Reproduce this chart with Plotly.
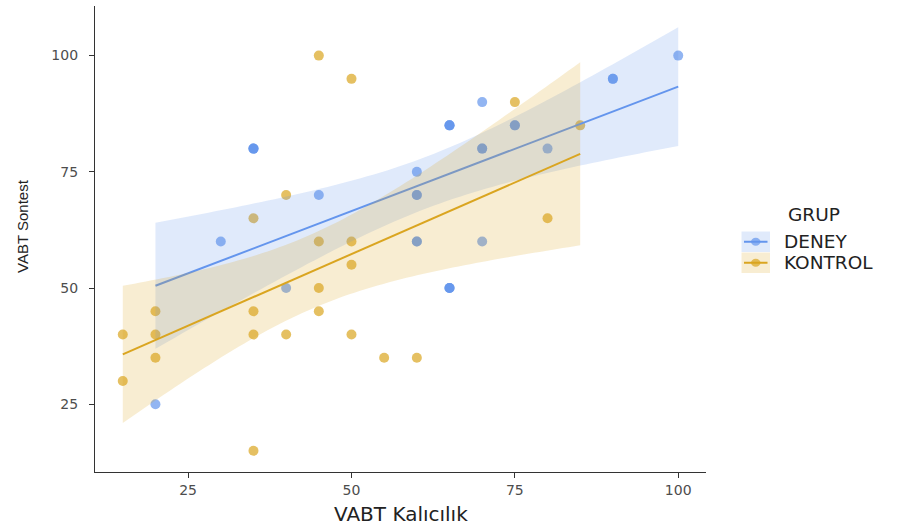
import math
import numpy as np
import plotly.graph_objects as go

# ---------------- data ----------------
groups = ["DENEY", "KONTROL"]
deney_x = [20, 30, 35, 35, 35, 40, 45, 60, 60, 60, 60, 60, 65, 65, 65, 65, 65, 65,
           70, 70, 70, 70, 75, 75, 80, 90, 90, 100]
deney_y = [25, 60, 80, 80, 80, 50, 70, 75, 70, 70, 60, 60, 85, 85, 85, 50, 50, 50,
           90, 80, 80, 60, 85, 85, 80, 95, 95, 100]
kontrol_x = [45, 50, 40, 35, 45, 50, 50, 45, 20, 35, 45, 15, 20, 35, 40, 50, 20, 55,
             60, 15, 35, 85, 80, 75]
kontrol_y = [100, 95, 70, 65, 60, 60, 55, 50, 45, 45, 45, 40, 40, 40, 40, 40, 35, 35,
             35, 30, 15, 85, 65, 90]
x_ticks = [25, 50, 75, 100]
y_ticks = [25, 50, 75, 100]

BLUE = (100, 149, 237)
GOLD = (218, 165, 32)


def rgba(c, a):
    return f"rgba({c[0]},{c[1]},{c[2]},{a})"


def t975(df):
    c = math.exp(math.lgamma((df + 1) / 2) - math.lgamma(df / 2)) / math.sqrt(df * math.pi)

    def cdf(q):
        t = np.linspace(0, q, 4001)
        p = c * (1 + t * t / df) ** (-(df + 1) / 2)
        return 0.5 + np.trapezoid(p, t)

    lo, hi = 0.0, 10.0
    for _ in range(60):
        mid = (lo + hi) / 2
        if cdf(mid) < 0.975:
            lo = mid
        else:
            hi = mid
    return (lo + hi) / 2


def lm_smooth(xs, ys, n_out=80):
    """Linear model fit with 95% confidence band (like geom_smooth(method='lm'))."""
    xs = np.asarray(xs, float)
    ys = np.asarray(ys, float)
    n = len(xs)
    mx, my = xs.mean(), ys.mean()
    sxx = ((xs - mx) ** 2).sum()
    b = ((xs - mx) * (ys - my)).sum() / sxx
    a = my - b * mx
    s = math.sqrt(((ys - a - b * xs) ** 2).sum() / (n - 2))
    xe = np.linspace(xs.min(), xs.max(), n_out)
    fit = a + b * xe
    hw = t975(n - 2) * s * np.sqrt(1 / n + (xe - mx) ** 2 / sxx)
    return xe, fit, fit - hw, fit + hw


series = {
    "DENEY": (deney_x, deney_y, BLUE),
    "KONTROL": (kontrol_x, kontrol_y, GOLD),
}

fig = go.Figure()

# points first (underneath the smooths)
for g in groups:
    xs, ys, col = series[g]
    fig.add_trace(go.Scatter(
        x=xs, y=ys, mode="markers", name=g, showlegend=False,
        marker=dict(size=10, color=rgba(col, 0.7), line=dict(width=0)),
        hoverinfo="x+y+name"))

ymins, ymaxs = [], []
for g in groups:
    xs, ys, col = series[g]
    xe, fit, lo, hi = lm_smooth(xs, ys)
    ymins.append(min(min(ys), lo.min()))
    ymaxs.append(max(max(ys), hi.max()))
    fig.add_trace(go.Scatter(
        x=np.concatenate([xe, xe[::-1]]), y=np.concatenate([hi, lo[::-1]]),
        fill="toself", fillcolor=rgba(col, 0.2), mode="none",
        showlegend=False, hoverinfo="skip"))
    fig.add_trace(go.Scatter(
        x=xe, y=fit, mode="lines", line=dict(color=rgba(col, 1), width=2),
        showlegend=False, hoverinfo="skip"))

all_x = deney_x + kontrol_x
xr = [min(all_x), max(all_x)]
yr = [min(ymins), max(ymaxs)]
xpad = 0.05 * (xr[1] - xr[0])
ypad = 0.05 * (yr[1] - yr[0])

axis_common = dict(
    showgrid=False, zeroline=False, showline=True, linecolor="#333333", linewidth=1.3,
    ticks="outside", ticklen=5, tickwidth=1.1, tickcolor="#333333",
    tickfont=dict(family="DejaVu Sans", size=14, color="#4d4d4d"),
)

fig.update_layout(
    width=904, height=528,
    margin=dict(l=95, r=198, t=6, b=56),
    plot_bgcolor="white", paper_bgcolor="white",
    showlegend=False,
    xaxis=dict(range=[xr[0] - xpad, xr[1] + xpad], tickvals=x_ticks, **axis_common),
    yaxis=dict(range=[yr[0] - ypad, yr[1] + ypad], tickvals=y_ticks,
               ticklabelstandoff=8, **axis_common),
)

# ---- axis titles ----
PW, PH, L, B = 611, 466, 95, 472


def px(xp):
    return (xp - L) / PW


def py(yp):
    return (B - yp) / PH


fig.add_annotation(xref="paper", yref="paper", x=px(401), y=py(514), text="VABT Kalıcılık",
                   showarrow=False, xanchor="center", yanchor="middle",
                   font=dict(family="DejaVu Sans", size=20, color="#222222"))
fig.add_annotation(xref="paper", yref="paper", x=px(22), y=py(226), text="VABT Sontest",
                   showarrow=False, xanchor="center", yanchor="middle", textangle=-90,
                   font=dict(family="Liberation Sans", size=15, color="#222222"))

# ---- legend (drawn manually, ggplot-style keys) ----
fig.add_annotation(xref="paper", yref="paper", x=px(786), y=py(214), text="GRUP",
                   showarrow=False, xanchor="left", yanchor="middle",
                   font=dict(family="DejaVu Sans", size=18.5, color="#222222"))
key_tops = [231.5, 252.5]
for g, top in zip(groups, key_tops):
    col = series[g][2]
    bot = top + 20.5
    cy = (top + bot) / 2
    fig.add_shape(type="rect", xref="paper", yref="paper", x0=px(741.5), x1=px(770),
                  y0=py(bot), y1=py(top), fillcolor=rgba(col, 0.2), line=dict(width=0))
    fig.add_shape(type="line", xref="paper", yref="paper", x0=px(744), x1=px(767.5),
                  y0=py(cy), y1=py(cy), line=dict(color=rgba(col, 1), width=2))
    fig.add_shape(type="circle", xref="paper", yref="paper", x0=px(751), x1=px(760.5),
                  y0=py(cy + 4), y1=py(cy - 4), fillcolor=rgba(col, 0.7), line=dict(width=0))
    fig.add_annotation(xref="paper", yref="paper", x=px(782), y=py(cy), text=g,
                       showarrow=False, xanchor="left", yanchor="middle",
                       font=dict(family="DejaVu Sans", size=18.5, color="#222222"))

fig.write_html("out.html", config={"displayModeBar": False},
               post_script="document.body.style.margin='0';document.body.style.overflow='hidden';")
